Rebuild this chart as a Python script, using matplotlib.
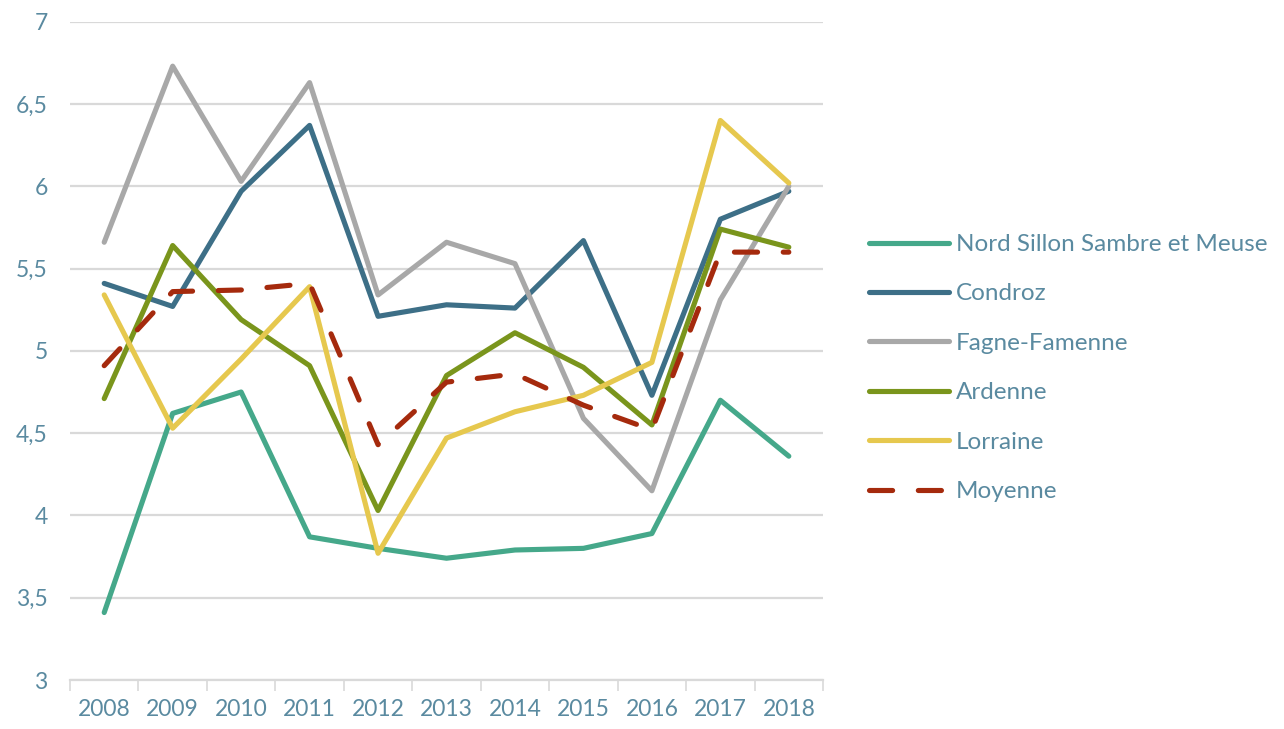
import matplotlib
matplotlib.use("Agg")
import matplotlib.pyplot as plt

years = ["2008", "2009", "2010", "2011", "2012", "2013", "2014", "2015", "2016", "2017", "2018"]
nord_sillon = [3.41, 4.62, 4.75, 3.87, 3.80, 3.74, 3.79, 3.80, 3.89, 4.70, 4.36]
condroz = [5.41, 5.27, 5.97, 6.37, 5.21, 5.28, 5.26, 5.67, 4.73, 5.80, 5.97]
fagne_famenne = [5.66, 6.73, 6.03, 6.63, 5.34, 5.66, 5.53, 4.59, 4.15, 5.31, 6.00]
ardenne = [4.71, 5.64, 5.19, 4.91, 4.03, 4.85, 5.11, 4.90, 4.55, 5.74, 5.63]
lorraine = [5.34, 4.53, 4.95, 5.39, 3.77, 4.47, 4.63, 4.73, 4.93, 6.40, 6.02]
moyenne = [4.91, 5.36, 5.37, 5.41, 4.43, 4.81, 4.86, 4.67, 4.52, 5.60, 5.60]

yticks = [3, 3.5, 4, 4.5, 5, 5.5, 6, 6.5, 7]
ytick_labels = ["3", "3,5", "4", "4,5", "5", "5,5", "6", "6,5", "7"]

plt.rcParams['font.family'] = ['Lato', 'DejaVu Sans']
text_color = "#5A8AA0"

fig = plt.figure(figsize=(12.84, 7.29), dpi=100)
ax = fig.add_axes([0.0545, 0.0672, 0.5865, 0.903])

x = list(range(len(years)))
lw = 3.7
ax.plot(x, nord_sillon, color="#45A88A", lw=lw, label="Nord Sillon Sambre et Meuse", solid_capstyle="round")
ax.plot(x, condroz, color="#3D6F87", lw=lw, label="Condroz", solid_capstyle="round")
ax.plot(x, fagne_famenne, color="#A8A8A8", lw=lw, label="Fagne-Famenne", solid_capstyle="round")
ax.plot(x, ardenne, color="#7A951C", lw=lw, label="Ardenne", solid_capstyle="round")
ax.plot(x, lorraine, color="#E6C84E", lw=lw, label="Lorraine", solid_capstyle="round")
ax.plot(x, moyenne, color="#A52A0D", lw=lw, label="Moyenne", dashes=(4.5, 5.0), dash_capstyle="round")

ax.set_xlim(-0.5, len(years) - 0.5)
ax.set_ylim(3, 7)
ax.set_yticks(yticks)
ax.set_yticklabels(ytick_labels)
ax.set_xticks(x)
ax.set_xticklabels(years)
ax.set_xticks([i - 0.5 for i in range(len(years) + 1)], minor=True)
ax.tick_params(axis='x', which='major', length=0, pad=14, labelsize=16.5, labelcolor=text_color)
ax.tick_params(axis='x', which='minor', length=8, width=1.2, color="#D9D9D9")
ax.tick_params(axis='y', length=0, pad=16, labelsize=16.5, labelcolor=text_color)

ax.yaxis.grid(True, color="#D9D9D9", lw=1.6)
ax.set_axisbelow(True)
for s in ["top", "right", "left"]:
    ax.spines[s].set_visible(False)
ax.spines["bottom"].set_color("#D9D9D9")
ax.spines["bottom"].set_linewidth(1.6)

leg = fig.legend(handles=ax.get_lines(), loc="center left", bbox_to_anchor=(0.667, 0.495),
                 frameon=False, fontsize=17.5, handlelength=3.3, handletextpad=0.28,
                 labelspacing=1.17, borderpad=0)
for t in leg.get_texts():
    t.set_color(text_color)

fig.savefig("out.png", dpi=100)
